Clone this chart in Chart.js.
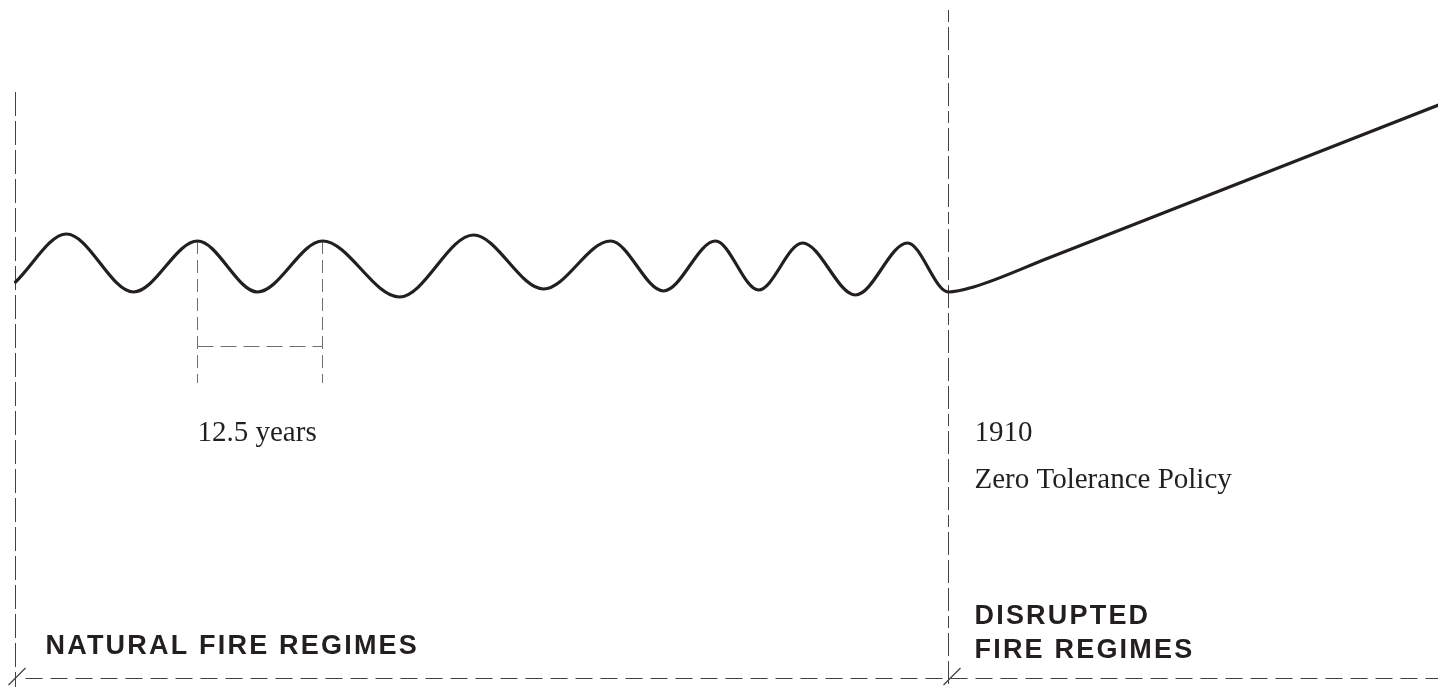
<!DOCTYPE html>
<html>
<head>
<meta charset="utf-8">
<script src="https://cdn.jsdelivr.net/npm/chart.js@4/dist/chart.umd.min.js"></script>
<style>
body{margin:0;background:#fff;}
#wrap{width:1438px;height:687px;position:relative;}
</style>
</head>
<body>
<div id="wrap"><canvas id="fireChart"></canvas></div>
<script>
// fire activity: x = year, y = relative fire index
const years = [1816.7, 1821.8, 1828.5, 1834.9, 1840.9, 1847.4, 1855.1, 1862.5, 1869.5,
               1876.2, 1881.5, 1886.7, 1891.0, 1895.4, 1900.7, 1905.9, 1910.0,
               1912.5, 1920.0, 1959.0];
const fireIndex = [40.5, 45.3, 39.5, 44.6, 39.5, 44.6, 39.0, 45.2, 39.8,
                   44.6, 39.6, 44.6, 39.7, 44.4, 39.2, 44.4, 39.5,
                   40.0, 42.9, 58.2];

const startYear = 1816.7;
const policyYear = 1910;
const cycleStart = 1834.9;
const cycleLength = 12.5;

const periodLabels = ["NATURAL FIRE REGIMES", "DISRUPTED", "FIRE REGIMES"];
const policyLabels = ["1910", "Zero Tolerance Policy"];
const cycleLabel = cycleLength + " years";

const ink = "#231f20";
const guide = "#414042";
const guideLight = "#6d6e71";

function seg(x1, y1, x2, y2) {
  return [{x: x1, y: y1}, {x: x2, y: y2}];
}

function guideLine(data, color, dash, width) {
  return {
    data: data,
    borderColor: color,
    borderWidth: width || 1,
    borderDash: dash,
    pointRadius: 0,
    tension: 0,
    fill: false
  };
}

const labelsPlugin = {
  id: "labels",
  afterDatasetsDraw(chart) {
    const ctx = chart.ctx;
    const x = chart.scales.x, y = chart.scales.y;
    ctx.save();
    ctx.fillStyle = ink;
    ctx.textBaseline = "alphabetic";
    ctx.textAlign = "left";

    ctx.font = "29px 'Liberation Serif'";
    ctx.fillText(cycleLabel, x.getPixelForValue(cycleStart), y.getPixelForValue(24.6));
    ctx.fillText(policyLabels[0], x.getPixelForValue(policyYear) + 26, y.getPixelForValue(24.6));
    ctx.fillText(policyLabels[1], x.getPixelForValue(policyYear) + 26, y.getPixelForValue(19.9));

    ctx.font = "bold 27px 'Liberation Sans'";
    ctx.letterSpacing = "2.2px";
    ctx.fillText(periodLabels[0], x.getPixelForValue(startYear) + 30, y.getPixelForValue(3.3));
    ctx.fillText(periodLabels[1], x.getPixelForValue(policyYear) + 26, y.getPixelForValue(6.3));
    ctx.fillText(periodLabels[2], x.getPixelForValue(policyYear) + 26, y.getPixelForValue(2.9));
    ctx.restore();
  }
};

new Chart(document.getElementById("fireChart"), {
  type: "line",
  data: {
    datasets: [
      {
        data: years.map((yr, i) => ({x: yr, y: fireIndex[i]})),
        borderColor: ink,
        borderWidth: 3.2,
        borderCapStyle: "round",
        pointRadius: 0,
        cubicInterpolationMode: "monotone",
        fill: false
      },
      // period boundaries
      guideLine(seg(startYear, 59.5, startYear, 0), guide, [24, 5]),
      guideLine(seg(policyYear, 67.7, policyYear, 0), guide, [12, 5, 23, 5, 23, 5, 23, 5]),
      // baseline
      guideLine(seg(1817.7, 0.85, 1959, 0.85), guide, [17, 8]),
      guideLine(seg(1816.0, 0.2, 1817.7, 1.9), guide, [], 1.3),
      guideLine(seg(1909.5, 0.2, 1911.2, 1.9), guide, [], 1.3),
      // one fire cycle
      guideLine(seg(cycleStart, 44.6, cycleStart, 30.4), guideLight, [13, 6]),
      guideLine(seg(cycleStart + cycleLength, 44.6, cycleStart + cycleLength, 30.4), guideLight, [13, 6]),
      guideLine(seg(cycleStart, 34.05, cycleStart + cycleLength, 34.05), guideLight, [16, 7])
    ]
  },
  options: {
    responsive: true,
    maintainAspectRatio: false,
    animation: false,
    layout: {padding: 0},
    plugins: {
      legend: {display: false},
      tooltip: {enabled: false},
      title: {display: false}
    },
    scales: {
      x: {type: "linear", min: 1815.15, max: 1958.95, display: false},
      y: {type: "linear", min: 0, max: 68.7, display: false}
    }
  },
  plugins: [labelsPlugin]
});
</script>
</body>
</html>
